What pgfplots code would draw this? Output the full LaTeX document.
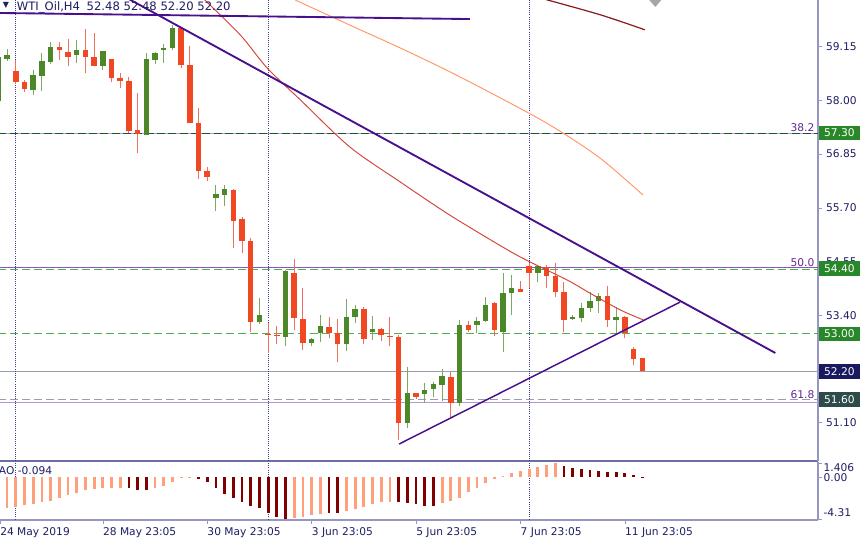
\documentclass[border=0pt]{standalone}
\usepackage{pgfplots}
\pgfplotsset{compat=1.18}
\usepackage{pgfplotstable}
\usepackage{fontspec}
\setmainfont{DejaVu Sans}

\definecolor{upbody}{RGB}{76,135,40}
\definecolor{downbody}{RGB}{241,72,36}
\definecolor{upwick}{RGB}{125,168,95}
\definecolor{downwick}{RGB}{238,112,92}
\definecolor{aolight}{RGB}{255,160,122}
\definecolor{aodark}{RGB}{128,0,0}
\definecolor{trend}{RGB}{72,16,140}
\definecolor{redma}{RGB}{215,65,50}
\definecolor{orangema}{RGB}{255,150,100}
\definecolor{darkma}{RGB}{140,25,25}
\definecolor{sepline}{RGB}{60,60,140}
\definecolor{framecol}{RGB}{150,150,195}
\definecolor{sepcol}{RGB}{110,110,165}
\definecolor{ticktext}{RGB}{30,30,100}
\definecolor{fibcol}{RGB}{100,40,150}
\definecolor{fibline}{RGB}{185,150,220}
\definecolor{purpline}{RGB}{140,80,200}
\definecolor{dkgreen}{RGB}{25,85,45}
\definecolor{ltgreen}{RGB}{80,175,80}
\definecolor{greyline}{RGB}{150,160,170}
\definecolor{taggreen}{RGB}{40,135,40}
\definecolor{tagnavy}{RGB}{25,25,95}
\definecolor{tagslate}{RGB}{45,75,75}

% WTI_Oil H4 candles: index, open, high, low, close
\pgfplotstableread{
i  o     h     l     c
0  57.99 58.96 57.95 58.93
1  58.89 59.10 58.84 58.96
4  58.22 58.65 58.11 58.54
5  58.52 59.01 58.20 58.84
6  58.82 59.25 58.78 59.14
9  58.97 59.29 58.80 59.08
12 58.74 59.06 58.65 59.06
17 57.26 59.01 57.26 58.88
18 58.86 59.03 58.78 59.01
19 59.08 59.21 58.80 59.12
20 59.12 59.61 59.08 59.55
25 55.91 56.19 55.63 56.00
26 55.97 56.19 55.74 56.10
30 53.25 53.77 53.21 53.40
33 52.93 54.37 52.74 54.35
36 52.80 52.91 52.74 52.89
37 53.02 53.40 52.83 53.17
40 52.78 53.75 52.63 53.36
41 53.36 53.62 53.23 53.53
43 53.04 53.38 52.87 53.10
47 51.09 52.29 50.98 51.73
49 51.71 51.95 51.52 51.80
50 51.82 51.97 51.65 51.93
51 51.90 52.25 51.56 52.10
53 51.52 53.30 51.45 53.19
55 53.19 53.36 53.02 53.27
56 53.27 53.79 53.25 53.62
58 53.04 54.30 52.61 53.87
59 53.87 54.26 53.40 53.98
62 54.30 54.47 54.11 54.45
66 53.32 53.40 53.30 53.36
67 53.34 53.66 53.25 53.55
68 53.55 53.90 53.47 53.70
69 53.70 53.87 53.45 53.81
71 53.30 53.57 53.00 53.36
}\upc

\pgfplotstableread{
i  o     h     l     c
2  58.63 58.86 58.35 58.39
3  58.39 58.44 58.18 58.24
7  59.14 59.25 58.86 59.08
8  59.03 59.31 58.74 58.93
10 59.08 59.53 58.58 58.93
11 58.93 59.44 58.74 58.74
13 58.88 58.88 58.39 58.48
14 58.48 58.58 58.26 58.41
15 58.41 58.50 57.30 57.34
16 57.36 58.16 56.87 57.28
21 59.55 59.57 58.69 58.76
22 58.76 59.16 57.51 57.51
23 57.51 57.84 56.32 56.49
24 56.49 56.57 56.27 56.36
27 56.08 56.10 54.84 55.42
28 55.46 55.50 54.73 54.99
29 54.99 55.05 53.04 53.25
31 52.98 53.23 52.60 52.97
32 52.98 53.17 52.78 52.95
34 54.30 54.60 53.08 53.34
35 53.32 53.98 52.65 52.80
38 53.15 53.36 52.91 53.02
39 53.02 53.32 52.40 52.78
42 53.53 53.57 52.78 52.89
44 53.10 53.13 52.85 52.97
45 52.95 53.36 52.74 52.93
46 52.93 52.97 50.73 51.09
48 51.73 51.73 51.60 51.65
52 52.08 52.18 51.22 51.52
54 53.19 53.27 53.04 53.08
57 53.66 53.68 52.95 53.08
60 53.96 54.13 53.90 53.90
61 54.45 54.52 53.98 54.30
63 54.43 54.47 53.98 54.24
64 54.24 54.52 53.79 53.90
65 53.90 54.11 53.04 53.30
70 53.81 54.02 53.15 53.30
72 53.36 53.38 52.91 53.02
73 52.67 52.72 52.33 52.46
74 52.48 52.48 52.20 52.20
}\downc

% Awesome Oscillator, rising and falling bars
\pgfplotstableread{
i  v
1  -3.15
2  -3.05
3  -2.88
4  -2.74
5  -2.57
6  -2.44
7  -2.13
8  -1.86
9  -1.62
10 -1.38
11 -1.24
12 -1.17
13 -1.16
14 -1.15
18 -1.17
19 -0.91
20 -0.50
21 -0.10
22 -0.03
34 -4.23
35 -4.07
36 -3.90
37 -3.83
40 -3.49
41 -3.29
42 -3.05
43 -2.81
44 -2.60
45 -2.54
51 -2.70
52 -2.47
53 -2.13
54 -1.58
55 -1.17
56 -0.66
57 -0.22
58 0.08
59 0.36
60 0.59
61 0.80
62 1.03
63 1.20
64 1.406
}\aoup

\pgfplotstableread{
i  v
15 -1.18
16 -1.32
17 -1.34
23 -0.22
24 -0.56
25 -1.17
26 -1.72
27 -2.13
28 -2.54
29 -2.95
30 -3.21
31 -3.72
32 -4.10
33 -4.31
38 -3.72
39 -3.66
46 -2.56
47 -2.70
48 -2.81
49 -2.95
50 -2.97
65 1.13
66 0.93
67 0.80
68 0.69
69 0.59
70 0.52
71 0.46
72 0.36
73 0.18
74 -0.094
}\aodown

\pgfplotsset{every tick label/.append style={font=\fontsize{8}{9.6}\selectfont}}
\tikzset{tag/.style={anchor=west, text=white, minimum width=31pt, minimum height=11pt,
    inner sep=0pt, xshift=0.4pt, font=\fontsize{8}{9.6}\selectfont}}

\begin{document}
\begin{tikzpicture}[font=\fontsize{8}{9.6}\selectfont]
\useasboundingbox (0,0) rectangle (645pt,-407.25pt);
\fill[white] (0,0) rectangle (645pt,-407.25pt);

\begin{axis}[
  at={(0pt,0pt)}, anchor=north west,
  width=613.5pt, height=345.75pt, scale only axis,
  xmin=0.184, xmax=94.2, ymin=50.277, ymax=60.148,
  axis x line*=bottom, axis y line*=right,
  x axis line style={draw=sepcol, line width=1.6pt, -},
  y axis line style={draw=framecol, line width=0.8pt, -},
  xtick=\empty,
  ytick={51.10,53.40,54.55,55.70,56.85,58.00,59.15},
  yticklabel style={text=ticktext, xshift=-0.5pt,
    /pgf/number format/.cd, fixed, fixed zerofill, precision=2, assume math mode=true},
  tick align=outside, major tick length=3pt, ytick style={draw=framecol},
  clip mode=individual,
]
% horizontal levels
\addplot[fibline, line width=0.75pt] coordinates {(0,57.30) (95,57.30)};
\addplot[dkgreen, line width=0.75pt, dash pattern=on 6pt off 2.5pt] coordinates {(0,57.30) (95,57.30)};
\addplot[purpline, line width=0.75pt] coordinates {(0,54.42) (95,54.42)};
\addplot[ltgreen, line width=0.75pt, dash pattern=on 6pt off 3pt] coordinates {(0,54.37) (95,54.37)};
\addplot[ltgreen, line width=0.75pt, dash pattern=on 6pt off 3pt] coordinates {(0,53.00) (95,53.00)};
\addplot[greyline, line width=0.75pt] coordinates {(0,52.20) (95,52.20)};
\addplot[greyline, line width=0.75pt, dash pattern=on 6pt off 3pt] coordinates {(0,51.60) (95,51.60)};
\addplot[fibline, line width=0.75pt] coordinates {(0,51.54) (95,51.54)};
% period separators
\addplot[sepline, line width=0.6pt, densely dotted] coordinates {(2,50) (2,61)};
\addplot[sepline, line width=0.6pt, densely dotted] coordinates {(31,50) (31,61)};
\addplot[sepline, line width=0.6pt, densely dotted] coordinates {(61,50) (61,61)};
% wicks
\addplot[draw=none, mark=none, forget plot, error bars/.cd, y dir=plus, y explicit, error mark=none,
  error bar style={draw=upwick, line width=0.75pt}]
  table[x=i, y=l, y error plus expr={\thisrow{h}-\thisrow{l}}] {\upc};
\addplot[draw=none, mark=none, forget plot, error bars/.cd, y dir=plus, y explicit, error mark=none,
  error bar style={draw=downwick, line width=0.75pt}]
  table[x=i, y=l, y error plus expr={\thisrow{h}-\thisrow{l}}] {\downc};
% bodies
\addplot[draw=none, mark=none, forget plot, error bars/.cd, y dir=plus, y explicit, error mark=none,
  error bar style={draw=upbody, line width=4.1pt}]
  table[x=i, y=o, y error plus expr={max(\thisrow{c}-\thisrow{o},0.03)}] {\upc};
\addplot[draw=none, mark=none, forget plot, error bars/.cd, y dir=plus, y explicit, error mark=none,
  error bar style={draw=downbody, line width=4.1pt}]
  table[x=i, y=c, y error plus expr={max(\thisrow{o}-\thisrow{c},0.03)}] {\downc};
% moving averages
\addplot[redma, line width=0.7pt, smooth] coordinates {
  (23.7,60.15) (27.8,59.40) (30.9,58.69) (34.7,58.01) (40.4,57.00) (46.2,56.25)
  (51.9,55.54) (58.5,54.80) (61.1,54.54) (65.4,54.15) (68.0,53.87) (71.5,53.51) (74.1,53.30)};
\addplot[orangema, line width=0.7pt, smooth] coordinates {
  (34.1,60.15) (40.4,59.61) (46.2,59.12) (51.9,58.61) (57.7,58.05) (63.4,57.47) (69.1,56.77) (74.1,55.97)};
\addplot[darkma, line width=0.9pt, smooth] coordinates {(62.3,60.19) (69.2,59.83) (74.3,59.51)};
% trend lines
\addplot[trend, line width=1.4pt] coordinates {(0.184,59.87) (54.2,59.74)};
\addplot[trend, line width=1.4pt] coordinates {(14.0,60.27) (89.3,52.59)};
\addplot[trend, line width=1.1pt] coordinates {(46.05,50.64) (78.35,53.68)};
% labels
\node[anchor=north west, inner sep=0pt, text=ticktext, font=\fontsize{6}{7}\selectfont]
  at (rel axis cs:0,1) [xshift=2pt, yshift=-1.5pt] {▼};
\node[anchor=north west, inner sep=0pt, text=ticktext, font=\fontsize{8.7}{10}\selectfont]
  at (rel axis cs:0,1) [xshift=12.5pt, yshift=-1.2pt] {WTI\_Oil,H4\hspace{5pt}52.48 52.48 52.20 52.20};
\fill[gray!70] (axis cs:74.8,60.148) -- (axis cs:76.2,60.148) -- (axis cs:75.5,60.0) -- cycle;
\node[anchor=south east, inner sep=0.5pt, text=fibcol] at ({rel axis cs:1,0}|-{axis cs:1,57.30}) [xshift=-2pt] {38.2};
\node[anchor=south east, inner sep=0.5pt, text=fibcol] at ({rel axis cs:1,0}|-{axis cs:1,54.42}) [xshift=-2pt] {50.0};
\node[anchor=south east, inner sep=0.5pt, text=fibcol] at ({rel axis cs:1,0}|-{axis cs:1,51.60}) [xshift=-2pt] {61.8};
\coordinate (tA) at ({rel axis cs:1,0}|-{axis cs:1,57.30});
\coordinate (tB) at ({rel axis cs:1,0}|-{axis cs:1,54.40});
\coordinate (tC) at ({rel axis cs:1,0}|-{axis cs:1,53.00});
\coordinate (tD) at ({rel axis cs:1,0}|-{axis cs:1,52.20});
\coordinate (tE) at ({rel axis cs:1,0}|-{axis cs:1,51.60});
\end{axis}

\node[tag, fill=taggreen] at (tA) {57.30};
\node[tag, fill=taggreen] at (tB) {54.40};
\node[tag, fill=taggreen] at (tC) {53.00};
\node[tag, fill=tagnavy] at (tD) {52.20};
\node[tag, fill=tagslate] at (tE) {51.60};

\begin{axis}[
  at={(0pt,-346.5pt)}, anchor=north west,
  width=613.5pt, height=43.5pt, scale only axis,
  xmin=0.184, xmax=94.2, ymin=-4.41, ymax=1.51,
  axis x line*=bottom, axis y line*=right,
  axis line style={draw=framecol, line width=0.8pt, -},
  xtick={0.184,12,24,36,48,60,72},
  xticklabels={24 May 2019, 28 May 23:05, 30 May 23:05, 3 Jun 23:05, 5 Jun 23:05, 7 Jun 23:05, 11 Jun 23:05},
  xticklabel style={anchor=north west, inner sep=0pt, yshift=-2.2pt, text=ticktext},
  ytick={-4.31,0,1.406}, yticklabels={},
  tick align=outside, major tick length=3pt, tick style={draw=framecol},
  clip mode=individual,
]
\addplot[sepline, line width=0.6pt, densely dotted] coordinates {(2,-5) (2,2)};
\addplot[sepline, line width=0.6pt, densely dotted] coordinates {(31,-5) (31,2)};
\addplot[sepline, line width=0.6pt, densely dotted] coordinates {(61,-5) (61,2)};
\addplot[ycomb, aolight, line width=2.1pt, mark=none] table[x=i, y=v] {\aoup};
\addplot[ycomb, aodark, line width=2.1pt, mark=none] table[x=i, y=v] {\aodown};
\node[anchor=west, inner sep=0pt, text=ticktext] at ({rel axis cs:0,0}|-{axis cs:1,0.59}) [xshift=-1pt] {AO -0.094};
\node[anchor=west, inner sep=0pt, text=ticktext] at ({rel axis cs:1,0}|-{axis cs:1,0.95}) [xshift=4pt] {1.406};
\node[anchor=west, inner sep=0pt, text=ticktext] at ({rel axis cs:1,0}|-{axis cs:1,-0.12}) [xshift=4pt] {0.00};
\node[anchor=west, inner sep=0pt, text=ticktext] at ({rel axis cs:1,0}|-{axis cs:1,-3.70}) [xshift=4pt] {-4.31};
\end{axis}
\end{tikzpicture}
\end{document}
